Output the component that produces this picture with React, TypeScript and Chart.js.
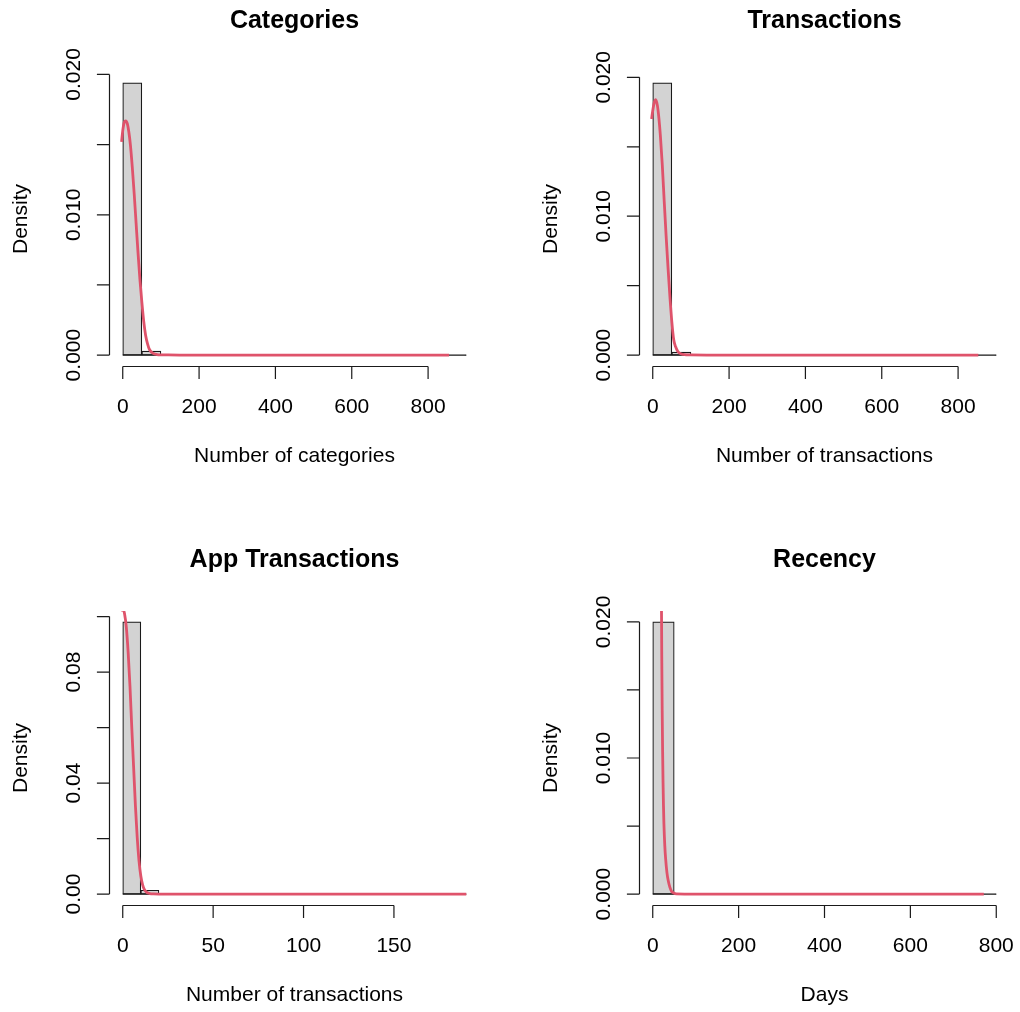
import React, { useEffect, useRef } from "react";
import { Chart, registerables } from "chart.js";

Chart.register(...registerables);

// ---------- Panel 1: Categories ----------
const catBreaks = [0, 50, 100, 150, 200, 250, 300, 350, 400, 450, 500, 550, 600, 650, 700, 750, 800, 850, 900];
const catDensity = [0.0194, 0.00029, 0.00003, 0.00001, 0.00001, 0, 0, 0, 0, 0, 0, 0, 0, 0, 0, 0, 0, 0.000005];
const catCurveX = [-3, 0, 4, 8, 12, 16, 20, 25, 30, 35, 40, 45, 50, 55, 60, 65, 70, 80, 90, 100, 120, 150, 200, 300, 400, 500, 600, 700, 800, 855];
const catCurveY = [0.0152, 0.016, 0.0166, 0.0167, 0.0165, 0.0159, 0.015, 0.0134, 0.0115, 0.0094, 0.0073, 0.0054, 0.0038, 0.0024, 0.0014, 0.0008, 0.0004, 0.00012, 0.00004, 0.00002, 0.00001, 0.000005, 0.000003, 0.000002, 0.000001, 0.000001, 0.000001, 0.000001, 0.000001, 0.000001];
const catXTicks = [0, 200, 400, 600, 800];
const catYTicks = [0, 0.005, 0.01, 0.015, 0.02];
const catYLabels = ["0.000", "", "0.010", "", "0.020"];

// ---------- Panel 2: Transactions ----------
const trnBreaks = [0, 50, 100, 150, 200, 250, 300, 350, 400, 450, 500, 550, 600, 650, 700, 750, 800, 850, 900];
const trnDensity = [0.0196, 0.00021, 0.00002, 0.00001, 0, 0, 0, 0, 0, 0, 0, 0, 0, 0, 0, 0, 0, 0.000005];
const trnCurveX = [-3, 0, 4, 8, 12, 16, 20, 25, 30, 35, 40, 45, 50, 55, 60, 65, 70, 80, 90, 100, 150, 200, 300, 400, 500, 600, 700, 800, 853];
const trnCurveY = [0.017, 0.0176, 0.0182, 0.0184, 0.018, 0.0171, 0.0158, 0.0137, 0.0111, 0.0086, 0.0063, 0.0042, 0.0024, 0.0011, 0.0006, 0.0003, 0.00015, 0.00005, 0.00002, 0.00001, 0.000005, 0.000003, 0.000002, 0.000001, 0.000001, 0.000001, 0.000001, 0.000001, 0.000001];
const trnXTicks = [0, 200, 400, 600, 800];
const trnYTicks = [0, 0.005, 0.01, 0.015, 0.02];
const trnYLabels = ["0.000", "", "0.010", "", "0.020"];

// ---------- Panel 3: App Transactions ----------
const appBreaks = [0, 10, 20, 30, 40, 50, 60, 70, 80, 90, 100, 110, 120, 130, 140, 150, 160, 170, 180, 190];
const appDensity = [0.0981, 0.0014, 0.0002, 0.00005, 0.00002, 0.00001, 0, 0, 0, 0, 0, 0, 0, 0, 0, 0, 0, 0, 0.00001];
const appCurveX = [-1, 0, 1, 2, 3, 4, 5, 6, 7, 8, 9, 10, 11, 12, 13, 14, 15, 17, 20, 30, 50, 100, 150, 190];
const appCurveY = [0.102, 0.103, 0.101, 0.096, 0.087, 0.075, 0.06, 0.046, 0.032, 0.0205, 0.012, 0.0065, 0.0033, 0.0016, 0.0008, 0.0004, 0.0002, 0.00008, 0.00003, 0.00001, 0.000005, 0.000002, 0.000001, 0.000001];
const appXTicks = [0, 50, 100, 150];
const appYTicks = [0, 0.02, 0.04, 0.06, 0.08, 0.1];
const appYLabels = ["0.00", "", "0.04", "", "0.08", ""];

// ---------- Panel 4: Recency ----------
const recBreaks = [0, 50, 100, 150, 200, 250, 300, 350, 400, 450, 500, 550, 600, 650, 700, 750, 800];
const recDensity = [0.02, 0.000002, 0, 0, 0, 0, 0, 0, 0, 0, 0, 0, 0, 0, 0, 0.000001];
const recCurveX = [19, 20, 21, 22, 23, 24, 25, 26, 28, 30, 33, 36, 40, 44, 48, 55, 100, 200, 300, 400, 500, 600, 700, 771];
const recCurveY = [0.03, 0.023, 0.0175, 0.0135, 0.0105, 0.0082, 0.0065, 0.0052, 0.0036, 0.0026, 0.0016, 0.001, 0.0005, 0.0002, 0.0001, 0.00002, 0, 0, 0, 0, 0, 0, 0, 0];
const recXTicks = [0, 200, 400, 600, 800];
const recYTicks = [0, 0.005, 0.01, 0.015, 0.02];
const recYLabels = ["0.000", "", "0.010", "", "0.020"];

const FONT = '"Liberation Sans", Arial, Helvetica, sans-serif';

const rAxesPlugin = {
  id: "rAxes",
  afterDraw(chart: any, _args: any, opts: any) {
    const { ctx, chartArea: a } = chart;
    const xs = chart.scales.x;
    const ys = chart.scales.y;
    ctx.save();
    ctx.strokeStyle = "#1a1a1a";
    ctx.fillStyle = "#000";
    ctx.lineWidth = 1.2;
    const tick = 12.6;

    // x axis
    const xb = Math.round(a.bottom) + 0.5;
    const xt: number[] = opts.xTicks;
    ctx.beginPath();
    ctx.moveTo(xs.getPixelForValue(xt[0]), xb);
    ctx.lineTo(xs.getPixelForValue(xt[xt.length - 1]), xb);
    xt.forEach((v) => {
      const p = xs.getPixelForValue(v);
      ctx.moveTo(p, xb);
      ctx.lineTo(p, xb + tick);
    });
    ctx.stroke();
    ctx.font = `21px ${FONT}`;
    ctx.textAlign = "center";
    ctx.textBaseline = "alphabetic";
    xt.forEach((v) => {
      ctx.fillText(String(v), xs.getPixelForValue(v), a.bottom + 47);
    });
    ctx.fillText(opts.xlab, (a.left + a.right) / 2, a.bottom + 96);

    // y axis
    const yl = Math.round(a.left) + 0.5;
    const yt: number[] = opts.yTicks;
    ctx.beginPath();
    ctx.moveTo(yl, ys.getPixelForValue(yt[0]));
    ctx.lineTo(yl, ys.getPixelForValue(yt[yt.length - 1]));
    yt.forEach((v) => {
      const p = ys.getPixelForValue(v);
      ctx.moveTo(yl, p);
      ctx.lineTo(yl - tick, p);
    });
    ctx.stroke();
    yt.forEach((v, i) => {
      const lab = opts.yLabels[i];
      if (!lab) return;
      ctx.save();
      ctx.translate(a.left - 29, ys.getPixelForValue(v));
      ctx.rotate(-Math.PI / 2);
      ctx.fillText(lab, 0, 0);
      ctx.restore();
    });
    ctx.save();
    ctx.translate(a.left - 82, (a.top + a.bottom) / 2);
    ctx.rotate(-Math.PI / 2);
    ctx.fillText(opts.ylab, 0, 0);
    ctx.restore();

    // title
    ctx.font = `bold 25px ${FONT}`;
    ctx.fillText(opts.title, (a.left + a.right) / 2, a.top - 44);
    ctx.restore();
  },
};

type PanelProps = {
  left: number;
  top: number;
  pad: { left: number; right: number; top: number; bottom: number };
  breaks: number[];
  density: number[];
  curveX: number[];
  curveY: number[];
  xTicks: number[];
  yTicks: number[];
  yLabels: string[];
  title: string;
  xlab: string;
};

function Panel(p: PanelProps) {
  const ref = useRef<HTMLCanvasElement>(null);
  useEffect(() => {
    if (!ref.current) return;
    const b = p.breaks;
    const xr = b[b.length - 1] - b[0];
    const ymax = Math.max(...p.density);
    const bars = p.density.map((d, i) => ({ x: (b[i] + b[i + 1]) / 2, y: d }));
    const curve = p.curveX.map((x, i) => ({ x, y: p.curveY[i] }));
    const base = [
      { x: b[0], y: 0 },
      { x: b[b.length - 1], y: 0 },
    ];
    const chart = new Chart(ref.current, {
      type: "bar",
      data: {
        datasets: [
          {
            type: "line",
            data: curve,
            borderColor: "#DF536B",
            borderWidth: 2.8,
            pointRadius: 0,
            cubicInterpolationMode: "monotone",
            clip: 0,
            order: 0,
          } as any,
          {
            type: "line",
            data: base,
            borderColor: "#1a1a1a",
            borderWidth: 1.2,
            pointRadius: 0,
            order: 1,
          } as any,
          {
            type: "bar",
            data: bars,
            backgroundColor: "#D3D3D3",
            borderColor: "#1a1a1a",
            borderWidth: 1.2,
            borderSkipped: false,
            barPercentage: 1,
            categoryPercentage: 1,
            grouped: false,
            order: 2,
          } as any,
        ],
      },
      options: {
        responsive: false,
        animation: false,
        devicePixelRatio: 1,
        layout: { padding: p.pad },
        plugins: {
          legend: { display: false },
          tooltip: { enabled: false },
          rAxes: {
            xTicks: p.xTicks,
            yTicks: p.yTicks,
            yLabels: p.yLabels,
            title: p.title,
            xlab: p.xlab,
            ylab: "Density",
          },
        } as any,
        scales: {
          x: {
            type: "linear",
            min: b[0] - 0.04 * xr,
            max: b[b.length - 1] + 0.04 * xr,
            offset: false,
            display: false,
          },
          y: {
            type: "linear",
            min: -0.04 * ymax,
            max: 1.04 * ymax,
            display: false,
          },
        },
      },
      plugins: [rAxesPlugin],
    } as any);
    return () => chart.destroy();
  }, []);
  return (
    <canvas
      ref={ref}
      width={510}
      height={506}
      style={{ position: "absolute", left: p.left, top: p.top, width: 510, height: 506 }}
    />
  );
}

export default function App() {
  const padL = { left: 109, right: 30 };
  const padR = { left: 129, right: 10 };
  const padT = { top: 72, bottom: 140 };
  const padB = { top: 105, bottom: 107 };
  return (
    <div style={{ position: "absolute", left: 0, top: 0, width: 1020, height: 1012, background: "#fff" }}>
      <Panel
        left={0}
        top={0}
        pad={{ ...padL, ...padT }}
        breaks={catBreaks}
        density={catDensity}
        curveX={catCurveX}
        curveY={catCurveY}
        xTicks={catXTicks}
        yTicks={catYTicks}
        yLabels={catYLabels}
        title="Categories"
        xlab="Number of categories"
      />
      <Panel
        left={510}
        top={0}
        pad={{ ...padR, ...padT }}
        breaks={trnBreaks}
        density={trnDensity}
        curveX={trnCurveX}
        curveY={trnCurveY}
        xTicks={trnXTicks}
        yTicks={trnYTicks}
        yLabels={trnYLabels}
        title="Transactions"
        xlab="Number of transactions"
      />
      <Panel
        left={0}
        top={506}
        pad={{ ...padL, ...padB }}
        breaks={appBreaks}
        density={appDensity}
        curveX={appCurveX}
        curveY={appCurveY}
        xTicks={appXTicks}
        yTicks={appYTicks}
        yLabels={appYLabels}
        title="App Transactions"
        xlab="Number of transactions"
      />
      <Panel
        left={510}
        top={506}
        pad={{ ...padR, ...padB }}
        breaks={recBreaks}
        density={recDensity}
        curveX={recCurveX}
        curveY={recCurveY}
        xTicks={recXTicks}
        yTicks={recYTicks}
        yLabels={recYLabels}
        title="Recency"
        xlab="Days"
      />
    </div>
  );
}
